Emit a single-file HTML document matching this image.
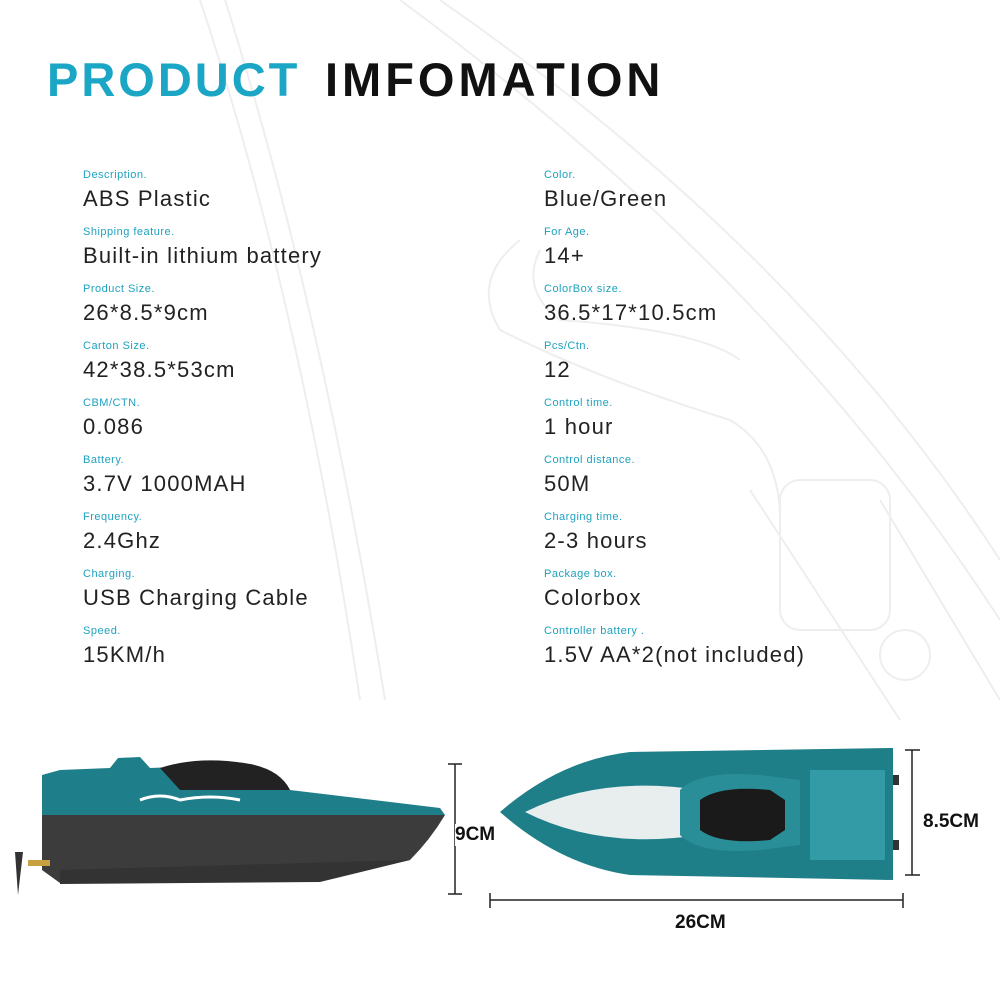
<!DOCTYPE html>
<html><head><meta charset="utf-8"><style>
body{margin:0;width:1000px;height:1000px;background:#fff;position:relative;overflow:hidden;font-family:"Liberation Sans",sans-serif}
.t{position:absolute;top:52px;font-size:47px;font-weight:bold;white-space:nowrap}
.l{position:absolute;font-size:11px;color:#1ea2bf;letter-spacing:0.5px}
.v{position:absolute;font-size:22px;color:#222;letter-spacing:1.2px}
.d{position:absolute;font-weight:bold;font-size:19px;color:#111;background:#fff}
</style></head><body>
<svg width="1000" height="1000" style="position:absolute;left:0;top:0" fill="none" stroke="#eeeeee" stroke-width="2">
<path d="M200 0 Q300 300 360 700"/><path d="M225 0 Q320 300 385 700"/>
<path d="M440 0 Q800 250 1000 560"/><path d="M400 0 Q780 280 1000 620"/>
<path d="M520 240 Q470 280 500 330 Q600 380 730 420 Q780 450 780 520"/>
<path d="M540 250 Q520 290 560 320 Q700 330 740 360"/>
<path d="M750 490 L900 720 M880 500 L1000 700"/>
<rect x="780" y="480" width="110" height="150" rx="20"/>
<circle cx="905" cy="655" r="25"/>
</svg>
<div class="t" style="left:47px;color:#1aa6c4;letter-spacing:3px">PRODUCT</div>
<div class="t" style="left:325px;color:#111;letter-spacing:4px">IMFOMATION</div>
<div class="l" style="left:83px;top:169px">Description.</div><div class="v" style="left:83px;top:186px">ABS Plastic</div>
<div class="l" style="left:83px;top:226px">Shipping feature.</div><div class="v" style="left:83px;top:243px">Built-in lithium battery</div>
<div class="l" style="left:83px;top:283px">Product Size.</div><div class="v" style="left:83px;top:300px">26*8.5*9cm</div>
<div class="l" style="left:83px;top:340px">Carton Size.</div><div class="v" style="left:83px;top:357px">42*38.5*53cm</div>
<div class="l" style="left:83px;top:397px">CBM/CTN.</div><div class="v" style="left:83px;top:414px">0.086</div>
<div class="l" style="left:83px;top:454px">Battery.</div><div class="v" style="left:83px;top:471px">3.7V 1000MAH</div>
<div class="l" style="left:83px;top:511px">Frequency.</div><div class="v" style="left:83px;top:528px">2.4Ghz</div>
<div class="l" style="left:83px;top:568px">Charging.</div><div class="v" style="left:83px;top:585px">USB Charging Cable</div>
<div class="l" style="left:83px;top:625px">Speed.</div><div class="v" style="left:83px;top:642px">15KM/h</div>
<div class="l" style="left:544px;top:169px">Color.</div><div class="v" style="left:544px;top:186px">Blue/Green</div>
<div class="l" style="left:544px;top:226px">For Age.</div><div class="v" style="left:544px;top:243px">14+</div>
<div class="l" style="left:544px;top:283px">ColorBox size.</div><div class="v" style="left:544px;top:300px">36.5*17*10.5cm</div>
<div class="l" style="left:544px;top:340px">Pcs/Ctn.</div><div class="v" style="left:544px;top:357px">12</div>
<div class="l" style="left:544px;top:397px">Control time.</div><div class="v" style="left:544px;top:414px">1 hour</div>
<div class="l" style="left:544px;top:454px">Control distance.</div><div class="v" style="left:544px;top:471px">50M</div>
<div class="l" style="left:544px;top:511px">Charging time.</div><div class="v" style="left:544px;top:528px">2-3 hours</div>
<div class="l" style="left:544px;top:568px">Package box.</div><div class="v" style="left:544px;top:585px">Colorbox</div>
<div class="l" style="left:544px;top:625px">Controller battery .</div><div class="v" style="left:544px;top:642px">1.5V AA*2(not included)</div>
<svg width="1000" height="1000" style="position:absolute;left:0;top:0">
<path d="M42 775 L60 770 L110 768 L118 758 L140 757 L150 768 L250 764 Q280 770 290 790 L440 808 L445 815 L42 815 Z" fill="#1e7f8a"/>
<path d="M160 768 Q200 755 250 764 Q280 770 290 790 L180 790 Z" fill="#222"/>
<path d="M42 815 L445 815 Q430 840 410 860 L320 880 L60 883 L42 870 Z" fill="#3c3c3c"/>
<path d="M60 870 L410 860 L320 882 L60 884 Z" fill="#333"/>
<rect x="28" y="860" width="22" height="6" fill="#c8a040"/>
<path d="M15 852 L23 852 L18 895 Z" fill="#333"/>
<path d="M140 800 q20 -8 40 0 q30 -6 60 0" stroke="#fff" stroke-width="3" fill="none"/>
<path d="M500 812 Q560 760 630 752 L893 748 L893 880 L630 875 Q560 865 500 812 Z" fill="#1f7f88"/>
<path d="M525 812 Q600 775 700 790 L700 835 Q600 850 525 812 Z" fill="#e8eeee"/>
<path d="M680 790 Q700 770 760 775 L800 780 L800 845 L760 850 Q700 855 680 835 Z" fill="#2a8e99"/>
<path d="M700 800 Q720 785 770 790 L785 800 L785 830 L770 840 Q720 845 700 830 Z" fill="#1a1a1a"/>
<rect x="810" y="770" width="75" height="90" fill="#3aa7b2" opacity=".7"/>
<rect x="893" y="775" width="6" height="10" fill="#333"/><rect x="893" y="840" width="6" height="10" fill="#333"/>
<g stroke="#222" stroke-width="1.5" fill="none">
<path d="M448 764 H462 M455 764 V894 M448 894 H462"/>
<path d="M905 750 H920 M912 750 V875 M905 875 H920"/>
<path d="M490 893 V908 M490 900 H903 M903 893 V908"/>
</g>
</svg>
<div class="d" style="left:455px;top:824px">9CM</div>
<div class="d" style="left:923px;top:811px">8.5CM</div>
<div class="d" style="left:675px;top:912px">26CM</div>
</body></html>
